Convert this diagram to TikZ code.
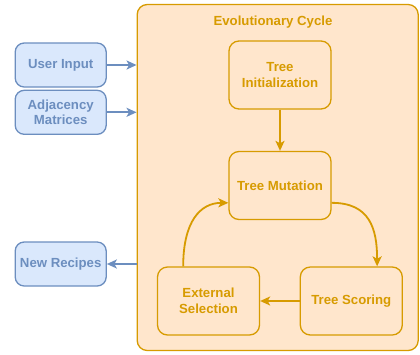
\documentclass[tikz,border=0pt]{standalone}
\usepackage{fontspec}
\setmainfont{Liberation Sans}
\usetikzlibrary{arrows.meta,calc}
\definecolor{ofill}{HTML}{FFE6CC}
\definecolor{oline}{HTML}{D79B00}
\definecolor{bfill}{HTML}{DAE8FC}
\definecolor{bline}{HTML}{6C8EBF}
\tikzset{
  txt/.style={font=\fontsize{13.2}{15.8}\selectfont\bfseries, align=center, inner sep=0pt},
  obox/.style={txt, draw=oline, fill=ofill, text=oline, line width=1.3pt, rounded corners=10pt,
    minimum width=102pt, minimum height=68pt},
  bbox/.style={txt, draw=bline, fill=bfill, text=bline, line width=1.3pt, rounded corners=9pt,
    minimum width=91pt, minimum height=44pt},
  oarr/.style={draw=oline, line width=1.8pt, -{Stealth[length=10pt,width=9pt,inset=2.5pt]}},
  barr/.style={draw=bline, line width=1.8pt, -{Stealth[length=10pt,width=9pt,inset=2.5pt]}},
}
\begin{document}
\begin{tikzpicture}[x=1pt,y=-1pt]
\useasboundingbox (0,0) rectangle (420,354);
\node[draw=oline, fill=ofill, line width=1.3pt, rounded corners=10pt, minimum width=281pt, minimum height=346pt, inner sep=0pt] (cont) at (277.7,177.5) {};
\node[txt, text=oline] (title) at (273,21.7) {Evolutionary Cycle};
\node[obox] (ti) at (280,75) {Tree\\Initialization};
\node[obox] (tm) at (280,185.5) {Tree Mutation};
\node[obox] (ts) at (351.3,301) {Tree Scoring};
\node[obox] (es) at (208.5,301) {External\\Selection};
\node[bbox] (ui) at (60.7,65) {User Input};
\node[bbox] (am) at (60.7,112.3) {Adjacency\\Matrices};
\node[bbox] (nr) at (60.7,264) {New Recipes};
\draw[barr] (ui) -- (ui -| cont.west);
\draw[barr] (am) -- (am -| cont.west);
\draw[barr] (nr -| cont.west) -- (nr);
\draw[oarr] (ti) -- (tm);
\coordinate (tmr) at ($(tm.south east)!0.25!(tm.north east)$);
\coordinate (tml) at ($(tm.south west)!0.25!(tm.north west)$);
\coordinate (tst) at ($(ts.north west)!0.75!(ts.north east)$);
\coordinate (est) at ($(es.north west)!0.255!(es.north east)$);
\draw[oarr] (tmr) .. controls +(38,0) and +(0,-38) .. (tst);
\draw[oarr] (ts) -- (es);
\draw[oarr] (est) .. controls +(0,-45) and +(-28,0) .. (tml);
\end{tikzpicture}
\end{document}
